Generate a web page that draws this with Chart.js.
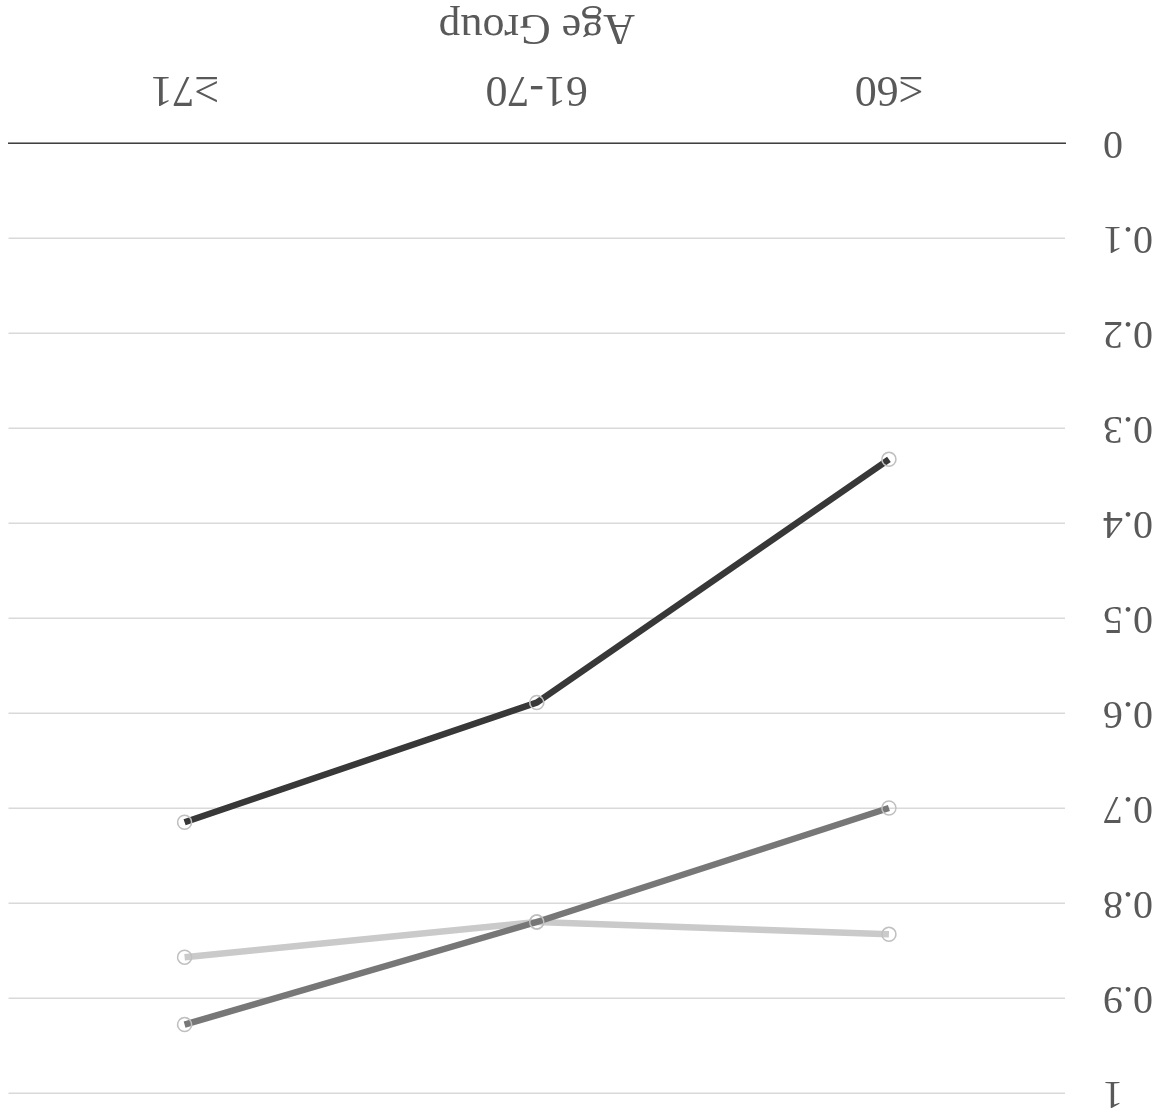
<!DOCTYPE html>
<html>
<head>
<meta charset="utf-8">
<script src="https://cdn.jsdelivr.net/npm/chart.js@4/dist/chart.umd.min.js"></script>
<style>
  html, body { margin: 0; padding: 0; background: #ffffff; }
  #wrap {
    width: 1170px; height: 1120px; position: relative; overflow: hidden;
    transform: rotate(180deg); transform-origin: 50% 50%;
  }
  #box { position: absolute; left: 0; top: -35px; width: 1170px; height: 1155px; }
</style>
</head>
<body>
<div id="wrap"><div id="box"><canvas id="chart"></canvas></div></div>
<script>
// Age groups on the category axis
const ageGroups = ['≤60', '61-70', '≥71'];

// Three series, one value per age group
const seriesDark = [0.333, 0.589, 0.715];
const seriesMid = [0.70, 0.82, 0.928];
const seriesLight = [0.833, 0.82, 0.857];

// Value-axis tick labels, bottom to top
const yTickLabels = ['0', '0.1', '0.2', '0.3', '0.4', '0.5', '0.6', '0.7', '0.8', '0.9', '1'];

const FONT = 'Liberation Serif';
const TEXT = '#595959';

function lineSet(data, color) {
  return {
    data: data,
    borderColor: color,
    backgroundColor: color,
    borderWidth: 6.5,
    tension: 0,
    pointRadius: 7,
    pointHoverRadius: 7,
    pointBorderWidth: 1.5,
    pointBorderColor: '#c0c0c0',
    pointBackgroundColor: 'rgba(255,255,255,0)'
  };
}

new Chart(document.getElementById('chart'), {
  type: 'line',
  data: {
    labels: ageGroups,
    datasets: [
      lineSet(seriesDark, '#383838'),
      lineSet(seriesMid, '#777777'),
      lineSet(seriesLight, '#cacaca')
    ]
  },
  options: {
    responsive: true,
    maintainAspectRatio: false,
    animation: false,
    layout: { padding: { top: 8, right: 7, bottom: 0, left: 0 } },
    plugins: { legend: { display: false }, tooltip: { enabled: false } },
    scales: {
      x: {
        offset: true,
        afterFit: (axis) => { axis.height = 143; },
        grid: { display: false, drawTicks: false },
        border: { display: true, color: '#404040', width: 1.5 },
        ticks: { color: TEXT, font: { family: FONT, size: 44 }, padding: 28, maxRotation: 0 },
        title: {
          display: true, text: 'Age Group', color: TEXT,
          font: { family: FONT, size: 44 }, padding: { top: 0, bottom: 0 }
        }
      },
      y: {
        min: 0, max: 1,
        afterFit: (axis) => { axis.width = 105; },
        grid: { color: '#d9d9d9', lineWidth: 1.5, drawTicks: false },
        border: { display: false },
        ticks: {
          stepSize: 0.1, color: TEXT, font: { family: FONT, size: 40 }, padding: 38,
          callback: (v, i) => yTickLabels[i]
        }
      }
    }
  }
});
</script>
</body>
</html>
